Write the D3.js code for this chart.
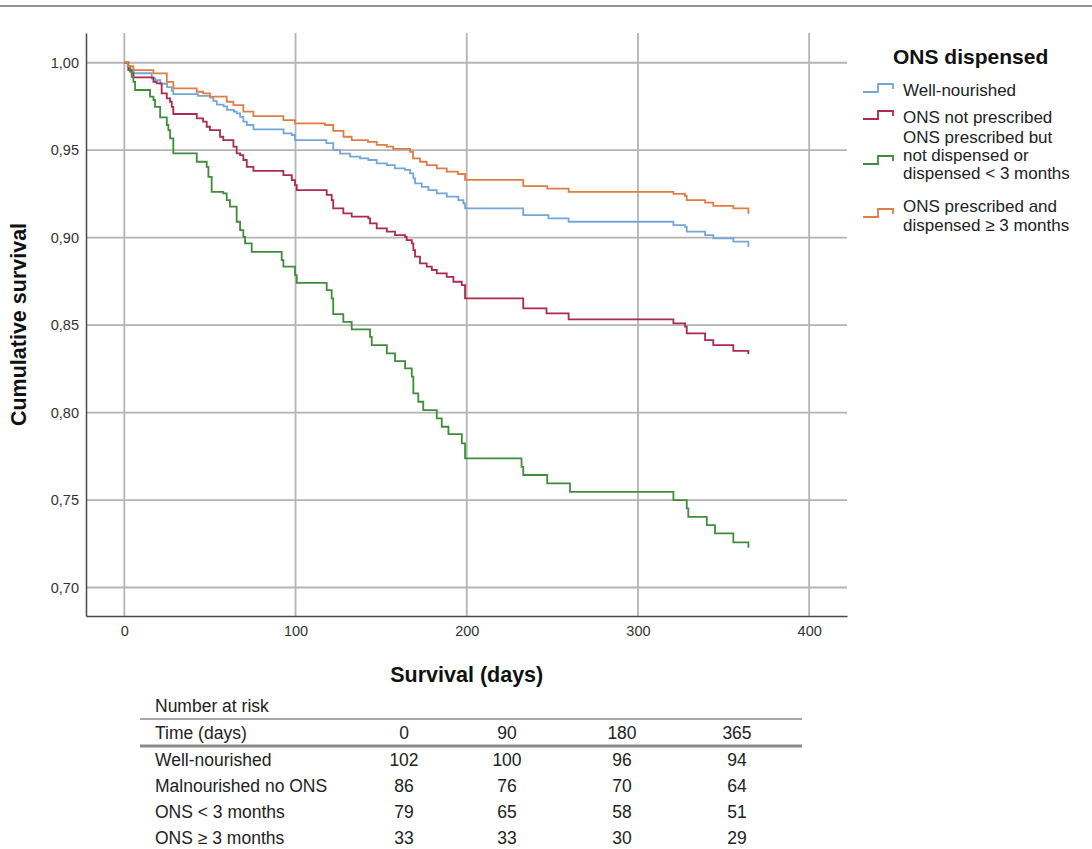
<!DOCTYPE html>
<html><head><meta charset="utf-8">
<script src="https://cdn.jsdelivr.net/npm/d3@7"></script>
<style>
html,body{margin:0;padding:0;background:#fff;}
svg{display:block;font-family:"Liberation Sans",Arial,Helvetica,sans-serif;}
</style></head>
<body>
<svg id="c" width="1092" height="849"></svg>
<script>
// ---- data ----
const seriesNames = ["Well-nourished","ONS not prescribed","ONS prescribed but|not dispensed or|dispensed < 3 months","ONS prescribed and|dispensed \u2265 3 months"];
const seriesColors = ["#74a6da","#ab2a4e","#3f8c3c","#df7d45"];
const wellTimes = [0,2,3.5,5.5,16,18,21,25,27.7,28.6,43,50,52,54,58,60,64,65.6,67.6,69.5,71.5,75.4,93,97.8,99.7,118,122,126,131.8,137.7,142.5,147.4,153.3,158,163.9,166.9,168.8,169.8,173.7,177.6,182.5,188.3,195.1,198,199,233,247.7,259.5,320.7,327.5,328.5,339.2,344,355.7,364.5,365];
const wellSurv  = [1,0.998,0.996,0.994,0.991,0.990,0.988,0.986,0.984,0.982,0.981,0.980,0.978,0.976,0.975,0.973,0.972,0.971,0.969,0.9663,0.9644,0.9619,0.9596,0.9587,0.9558,0.9540,0.9500,0.9480,0.9463,0.9453,0.9444,0.9425,0.9415,0.9396,0.9387,0.9368,0.9339,0.9310,0.9290,0.9272,0.9253,0.9234,0.9215,0.9196,0.9167,0.9129,0.9110,0.9091,0.9072,0.9062,0.9034,0.9015,0.8996,0.8977,0.8952,0.8952];
const noOnsTimes = [0,2.3,4.3,5.3,17,18.9,21.8,24.8,26.7,27.7,28.6,42.3,46,48.1,50,55.9,57.8,63.7,65.6,67.6,69.5,71.5,75.4,92.9,97.8,99.7,100.7,118.2,121.1,122,127.9,132.8,142.5,143.5,147.4,153.3,158.1,163.9,164.9,167.9,168.8,169.8,172.7,176.6,179.6,182.5,188.3,192.2,197.1,199,233,246.6,259.5,320.7,327.5,328.5,339.2,344,355.7,364.5,365];
const noOnsSurv  = [1,0.9958,0.9939,0.9916,0.9891,0.9882,0.9825,0.9796,0.9777,0.9748,0.9707,0.9682,0.9663,0.9634,0.9615,0.9577,0.9558,0.9520,0.9482,0.9472,0.9444,0.9405,0.9382,0.9358,0.9329,0.9300,0.9272,0.9244,0.9215,0.9167,0.9139,0.9120,0.9110,0.9082,0.9053,0.9034,0.9015,0.9005,0.8986,0.8967,0.8929,0.8891,0.8853,0.8834,0.8815,0.8796,0.8776,0.8748,0.8729,0.8653,0.8596,0.8567,0.8533,0.8510,0.8491,0.8453,0.8414,0.8386,0.8353,0.8338,0.8338];
const shortTimes = [0,2.3,3.3,4.3,5.3,6.3,15,17,17.9,20.9,24.8,25.7,26.7,28.6,42.3,48.1,49.1,51,57.8,59.8,61.7,65.6,67.6,69.5,70.5,74.4,91.9,92.9,99.7,100.7,118.2,121.1,122,127.9,132.8,143.5,144.5,153.3,158.1,164,167.9,168.8,171.7,174.6,182.5,185.4,189.3,197.1,199,232,233,247,260.3,320.7,328.5,329.4,340.2,345,355.7,364.5,365];
const shortSurv  = [1,0.9977,0.9949,0.9920,0.9891,0.9844,0.9806,0.9787,0.9748,0.9688,0.9644,0.9615,0.9568,0.9482,0.9434,0.9405,0.9348,0.9262,0.9253,0.9215,0.9177,0.9091,0.9043,0.9005,0.8967,0.8919,0.8872,0.8834,0.8786,0.8742,0.8700,0.8653,0.8563,0.8519,0.8476,0.8433,0.8386,0.8338,0.8294,0.8253,0.8205,0.8110,0.8062,0.8014,0.7967,0.7919,0.7877,0.7824,0.7738,0.7690,0.7643,0.7595,0.7547,0.7500,0.7452,0.7404,0.7357,0.7309,0.7258,0.7233,0.7233];
const longTimes = [0,2,5.3,17,24.8,28.6,42.3,46,50,59.8,63.7,69.5,75.4,92.9,99.7,117.2,122,128,132.8,142.3,147.4,153.3,157,166.9,168.6,172.7,176.6,182.5,188.3,194.9,199,233,247,259.5,320.7,327.5,328.5,339.2,344,355.7,364.5,365];
const longSurv  = [1,0.998,0.9958,0.9939,0.9891,0.9853,0.9834,0.9825,0.9806,0.9777,0.9758,0.9720,0.9695,0.9672,0.9653,0.9644,0.9610,0.9577,0.9558,0.9548,0.9530,0.9520,0.9507,0.9490,0.9453,0.9434,0.9415,0.9396,0.9377,0.9364,0.9330,0.9295,0.9280,0.9262,0.9250,0.9238,0.9215,0.9200,0.9182,0.9167,0.9142,0.9142];
const xTicks = [0,100,200,300,400];
const yTicks = [0.70,0.75,0.80,0.85,0.90,0.95,1.00];
const riskTimes = ["0","90","180","365"];
const riskGroups = ["Well-nourished","Malnourished no ONS","ONS < 3 months","ONS \u2265 3 months"];
const riskWell = [102,100,96,94];
const riskNoOns = [86,76,70,64];
const riskShort = [79,65,58,51];
const riskLong = [33,33,30,29];

// ---- drawing ----
const svg = d3.select("#c");
const L = 86, R = 847, T = 33, B = 616;
const x = d3.scaleLinear().domain([-22.4, 422.1]).range([L, R]);
const y = d3.scaleLinear().domain([0.6837, 1.0170]).range([B, T]);

svg.append("line").attr("x1",0).attr("x2",1092).attr("y1",6).attr("y2",6)
  .attr("stroke","#6e727a").attr("stroke-width",1.5);

const grid = svg.append("g");
grid.selectAll("line.v").data(xTicks).join("line")
  .attr("x1",d=>x(d)).attr("x2",d=>x(d)).attr("y1",T).attr("y2",B)
  .attr("stroke","#b4b4b4").attr("stroke-width",1.8);
grid.selectAll("line.h").data(yTicks).join("line").attr("class","h")
  .attr("x1",L).attr("x2",R).attr("y1",d=>y(d)).attr("y2",d=>y(d))
  .attr("stroke","#b4b4b4").attr("stroke-width",1.8);

// axes
const fmt = d3.format(".2f");
const yAxis = d3.axisLeft(y).tickValues(yTicks).tickSize(0).tickPadding(7)
  .tickFormat(d=>fmt(d).replace(".",","));
const gy = svg.append("g").attr("transform",`translate(${L},0)`).call(yAxis);
gy.select(".domain").attr("stroke","#4a4a4a").attr("stroke-width",1.5);
gy.selectAll("text").attr("font-size",14.5).attr("fill","#333").attr("font-family","Liberation Sans, Arial");

const xAxis = d3.axisBottom(x).tickValues(xTicks).tickSize(0).tickPadding(10);
const gx = svg.append("g").attr("transform",`translate(0,${B})`).call(xAxis);
gx.select(".domain").attr("stroke","#4a4a4a").attr("stroke-width",1.5);
gx.selectAll("text").attr("font-size",14.5).attr("fill","#333").attr("font-family","Liberation Sans, Arial");

// curves
const series = [
  d3.zip(wellTimes, wellSurv),
  d3.zip(noOnsTimes, noOnsSurv),
  d3.zip(shortTimes, shortSurv),
  d3.zip(longTimes, longSurv)
];
const line = d3.line().x(d=>x(d[0])).y(d=>y(d[1])).curve(d3.curveStepAfter);
svg.append("g").selectAll("path").data(series).join("path")
  .attr("d", line).attr("fill","none")
  .attr("stroke",(d,i)=>seriesColors[i]).attr("stroke-width",1.8);

// axis titles
svg.append("text").attr("transform",`translate(26,${(T+B)/2}) rotate(-90)`)
  .attr("text-anchor","middle").attr("font-weight","bold").attr("font-size",21.5)
  .attr("fill","#111").text("Cumulative survival");
svg.append("text").attr("x",x(200)).attr("y",682)
  .attr("text-anchor","middle").attr("font-weight","bold").attr("font-size",21.5)
  .attr("fill","#111").text("Survival (days)");

// legend
const lg = svg.append("g");
lg.append("text").attr("x",893).attr("y",56).attr("dominant-baseline","central")
  .attr("font-weight","bold").attr("font-size",21).attr("fill","#111").text("ONS dispensed");
const legRows = [{sym:92, lines:[90]},{sym:119, lines:[117]},{sym:164, lines:[137,155,173]},{sym:217, lines:[206,225]}];
legRows.forEach((r,i)=>{
  const s = r.sym;
  lg.append("path")
    .attr("d",`M863,${s}H878V${s-8}H893V${s-3}`)
    .attr("fill","none").attr("stroke",seriesColors[i]).attr("stroke-width",1.8);
  seriesNames[i].split("|").forEach((t,j)=>{
    lg.append("text").attr("x",903).attr("y",r.lines[j]).attr("dominant-baseline","central")
      .attr("font-size",17).attr("fill","#222").text(t);
  });
});

// number at risk table
const tb = svg.append("g").attr("font-size",17.5).attr("fill","#222");
const colX = [404,507,622,737];
tb.append("text").attr("x",155).attr("y",706).attr("dominant-baseline","central").text("Number at risk");
tb.append("line").attr("x1",140).attr("x2",802).attr("y1",719).attr("y2",719).attr("stroke","#8a8a8a").attr("stroke-width",1.5);
tb.append("text").attr("x",155).attr("y",733).attr("dominant-baseline","central").text("Time (days)");
riskTimes.forEach((t,i)=>tb.append("text").attr("x",colX[i]).attr("y",733).attr("text-anchor","middle").attr("dominant-baseline","central").text(t));
tb.append("line").attr("x1",140).attr("x2",802).attr("y1",746).attr("y2",746).attr("stroke","#8a8a8a").attr("stroke-width",3);
const riskRows = [riskWell, riskNoOns, riskShort, riskLong];
riskGroups.forEach((g,r)=>{
  const yy = 760 + r*26;
  tb.append("text").attr("x",155).attr("y",yy).attr("dominant-baseline","central").text(g);
  riskRows[r].forEach((v,i)=>tb.append("text").attr("x",colX[i]).attr("y",yy).attr("text-anchor","middle").attr("dominant-baseline","central").text(v));
});
</script>
</body></html>
